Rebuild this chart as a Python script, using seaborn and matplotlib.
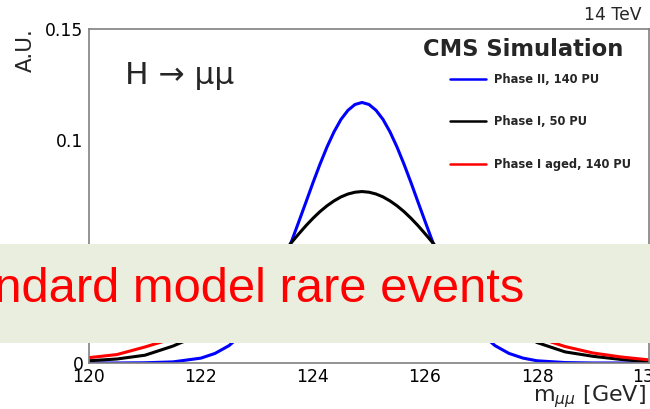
import pandas as pd
import numpy as np
import matplotlib
matplotlib.use('Agg')
import matplotlib.pyplot as plt
from matplotlib.patches import Rectangle
from matplotlib.ticker import MultipleLocator, FuncFormatter
import seaborn as sns

# --- data (dimuon mass, arbitrary units) ---
mass_gev = [120.0, 120.5, 121.0, 121.5, 122.0, 122.25, 122.5, 122.75, 123.0, 123.25,
            123.5, 123.625, 123.75, 123.875, 124.0, 124.125, 124.25, 124.375, 124.5, 124.625,
            124.75, 124.875, 125.0, 125.125, 125.25, 125.375, 125.5, 125.625, 125.75, 125.875,
            126.0, 126.125, 126.25, 126.5, 126.75, 127.0, 127.25, 127.5, 127.75, 128.0,
            128.5, 129.0, 129.5, 130.0]
phase2_140pu = [0.0, 0.0, 0.0001, 0.0005, 0.0022, 0.0043, 0.0078, 0.0133, 0.0216, 0.0329,
                0.0472, 0.0552, 0.0637, 0.0723, 0.0810, 0.0893, 0.0970, 0.1038, 0.1094, 0.1135,
                0.1161, 0.1170, 0.1161, 0.1135, 0.1094, 0.1038, 0.0970, 0.0893, 0.0810, 0.0723,
                0.0637, 0.0552, 0.0472, 0.0329, 0.0216, 0.0133, 0.0078, 0.0043, 0.0022, 0.0010,
                0.0002, 0.0, 0.0, 0.0]
phase1_50pu = [0.0010, 0.0018, 0.0035, 0.0076, 0.0130, 0.0167, 0.0220, 0.0282, 0.0353, 0.0428,
               0.0506, 0.0544, 0.0581, 0.0617, 0.0650, 0.0680, 0.0706, 0.0728, 0.0746, 0.0759,
               0.0767, 0.0770, 0.0767, 0.0759, 0.0746, 0.0728, 0.0706, 0.0680, 0.0650, 0.0617,
               0.0581, 0.0544, 0.0506, 0.0428, 0.0353, 0.0282, 0.0220, 0.0167, 0.0130, 0.0092,
               0.0050, 0.0030, 0.0016, 0.0005]
phase1_aged_140pu = [0.0024, 0.0038, 0.0072, 0.0110, 0.0166, 0.0201, 0.0240, 0.0282, 0.0324, 0.0366,
                     0.0406, 0.0425, 0.0443, 0.0459, 0.0474, 0.0487, 0.0498, 0.0506, 0.0513, 0.0518,
                     0.0520, 0.0519, 0.0517, 0.0512, 0.0505, 0.0495, 0.0484, 0.0471, 0.0456, 0.0439,
                     0.0421, 0.0402, 0.0383, 0.0341, 0.0299, 0.0257, 0.0217, 0.0180, 0.0146, 0.0115,
                     0.0074, 0.0045, 0.0027, 0.0014]

series_names = ['Phase II, 140 PU', 'Phase I, 50 PU', 'Phase I aged, 140 PU']
series_colors = {'Phase II, 140 PU': '#0000FF',
                 'Phase I, 50 PU': '#000000',
                 'Phase I aged, 140 PU': '#FF0000'}

x_ticks = [120, 122, 124, 126, 128, 130]
y_ticks = [0, 0.05, 0.1, 0.15]

# long format for seaborn
frames = []
for name, vals in zip(series_names, [phase2_140pu, phase1_50pu, phase1_aged_140pu]):
    frames.append(pd.DataFrame({'mass': mass_gev, 'au': vals, 'series': name}))
df = pd.concat(frames, ignore_index=True)

sns.set_style('white')
plt.rcParams['font.family'] = ['DejaVu Sans']
plt.rcParams['lines.solid_joinstyle'] = 'round'

W, H = 650, 409
fig = plt.figure(figsize=(W / 100, H / 100), dpi=100)
ax = fig.add_axes([89 / W, 1 - 363 / H, 560 / W, 334 / H])

sns.lineplot(data=df, x='mass', y='au', hue='series', hue_order=series_names,
             palette=series_colors, linewidth=2.2, ax=ax, legend=True, sort=False)

ax.set_xlim(120, 130)
ax.set_ylim(0, 0.15)
ax.set_xticks(x_ticks)
ax.set_yticks(y_ticks)
ax.xaxis.set_minor_locator(MultipleLocator(0.5))
ax.yaxis.set_minor_locator(MultipleLocator(0.01))
ax.yaxis.set_major_formatter(FuncFormatter(lambda v, p: '%g' % v))
ax.xaxis.set_major_formatter(FuncFormatter(lambda v, p: '%g' % v))
ax.set_xlabel('')
ax.set_ylabel('')

gray = '#808080'
for s in ax.spines.values():
    s.set_color(gray)
    s.set_linewidth(1.2)
ax.tick_params(axis='both', which='both', direction='in', color=gray, width=0.9,
               labelsize=12.3, labelcolor='black')
ax.tick_params(axis='x', which='major', length=8, pad=3.5)
ax.tick_params(axis='x', which='minor', length=4.3)
ax.tick_params(axis='y', which='major', length=11.5, pad=4)
ax.tick_params(axis='y', which='minor', length=5.8)

# legend
handles, labels = ax.get_legend_handles_labels()
leg = ax.legend(handles, labels, loc='upper left',
                bbox_to_anchor=(450 / W, 1 - 73 / H), bbox_transform=fig.transFigure,
                frameon=False, borderpad=0, borderaxespad=0,
                handlelength=3.1, handletextpad=0.7, labelspacing=2.55,
                prop={'weight': 'bold', 'size': 8.3})
for h in leg.get_lines():
    h.set_linewidth(1.8)

fig.text(523 / W, 1 - 49 / H, 'CMS Simulation', ha='center', va='center',
         fontsize=16.3, fontweight='bold')
fig.text(642 / W, 1 - 15 / H, '14 TeV', ha='right', va='center', fontsize=12.3)
fig.text(125 / W, 1 - 75 / H, 'H \u2192 \u03bc\u03bc', ha='left', va='center', fontsize=22.5)
fig.text(26 / W, 1 - 28 / H, 'A.U.', rotation=90, ha='center', va='top', fontsize=15.5)
fig.text(646 / W, 1 - 397 / H, r'm$_{\mu\mu}$ [GeV]', ha='right', va='center', fontsize=16)

# overlay banner across the plot
fig.add_artist(Rectangle((0, 1 - 343 / H), 1, 99 / H, transform=fig.transFigure,
                         facecolor='#EAEEDF', edgecolor='none', zorder=10))
fig.text(524 / W, 1 - 302 / H, 'Standard model rare events', ha='right', va='baseline',
         color='#FF0000', fontsize=35.2, family=['Liberation Sans', 'DejaVu Sans'], zorder=11)

fig.savefig('out.png', dpi=100)
